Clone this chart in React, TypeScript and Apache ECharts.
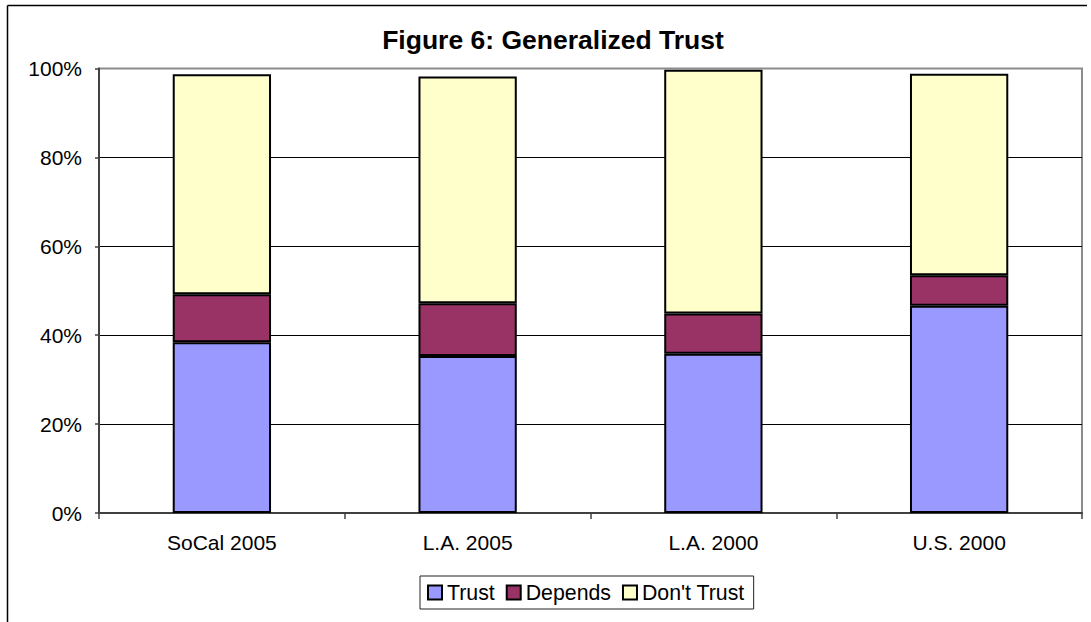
import React, { useEffect, useRef } from "react";
import * as echarts from "echarts";

const categories = ["SoCal 2005", "L.A. 2005", "L.A. 2000", "U.S. 2000"];
const trust = [38.4, 35.3, 35.8, 46.6];
const depends = [10.8, 11.9, 9.1, 6.9];
const dontTrust = [49.5, 51.0, 54.8, 45.3];
const seriesNames = ["Trust", "Depends", "Don't Trust"];
const seriesColors = ["#9999FF", "#993366", "#FFFFCC"];
const titleText = "Figure 6: Generalized Trust";

const FONT = 'Arial, "Liberation Sans", Helvetica, sans-serif';

export default function App() {
  const ref = useRef<HTMLDivElement>(null);
  useEffect(() => {
    if (!ref.current) return;
    const chart = echarts.init(ref.current, null, { renderer: "svg" });
    const values = [trust, depends, dontTrust];
    chart.setOption({
      animation: false,
      backgroundColor: "#ffffff",
      textStyle: { fontFamily: FONT },
      graphic: [
        {
          type: "line",
          shape: { x1: 7.5, y1: 5.5, x2: 1087, y2: 5.5 },
          style: { stroke: "#000", lineWidth: 1.5 },
        },
        {
          type: "line",
          shape: { x1: 7.5, y1: 5.5, x2: 7.5, y2: 640 },
          style: { stroke: "#000", lineWidth: 1.5 },
        },
        {
          type: "text",
          x: 553,
          y: 40,
          style: {
            text: titleText,
            fontSize: 26.5,
            fontWeight: "bold",
            fontFamily: FONT,
            fill: "#000",
            textAlign: "center",
            textVerticalAlign: "middle",
          },
        },
      ],
      grid: {
        left: 99,
        right: 9,
        top: 68.5,
        bottom: 109,
        show: true,
        borderColor: "#8c8c8c",
        borderWidth: 2,
        backgroundColor: "#ffffff",
      },
      legend: {
        data: seriesNames,
        left: 420,
        top: 576,
        padding: [6, 9, 6, 7],
        itemGap: 11,
        itemWidth: 14,
        itemHeight: 14,
        icon: "rect",
        borderColor: "#222",
        borderWidth: 1,
        itemStyle: { borderColor: "#000", borderWidth: 2 },
        textStyle: { fontSize: 21.3, color: "#000", fontFamily: FONT },
      },
      xAxis: {
        type: "category",
        data: categories,
        axisLine: { lineStyle: { color: "#404040", width: 2 } },
        axisTick: { show: true, alignWithLabel: false, length: 6, lineStyle: { color: "#404040", width: 1.5 } },
        axisLabel: { fontSize: 21, color: "#000", margin: 19, fontFamily: FONT },
        splitLine: { show: false },
      },
      yAxis: {
        type: "value",
        min: 0,
        max: 100,
        interval: 20,
        axisLine: { show: true, lineStyle: { color: "#404040", width: 2 } },
        axisTick: { show: true, length: 4, lineStyle: { color: "#404040", width: 1.5 } },
        axisLabel: { fontSize: 21, color: "#000", margin: 17, formatter: "{value}%", fontFamily: FONT },
        splitLine: {
          show: true,
          showMinLine: false,
          showMaxLine: false,
          lineStyle: { color: "#000", width: 1 },
        },
      },
      series: seriesNames.map((name, i) => ({
        name,
        type: "bar",
        stack: "total",
        barWidth: "40%",
        data: values[i],
        itemStyle: { color: seriesColors[i], borderColor: "#000", borderWidth: 2 },
        emphasis: { disabled: true },
      })),
    });
    return () => chart.dispose();
  }, []);
  return (
    <div
      ref={ref}
      style={{ position: "absolute", left: 0, top: 0, width: 1091, height: 622 }}
    />
  );
}
